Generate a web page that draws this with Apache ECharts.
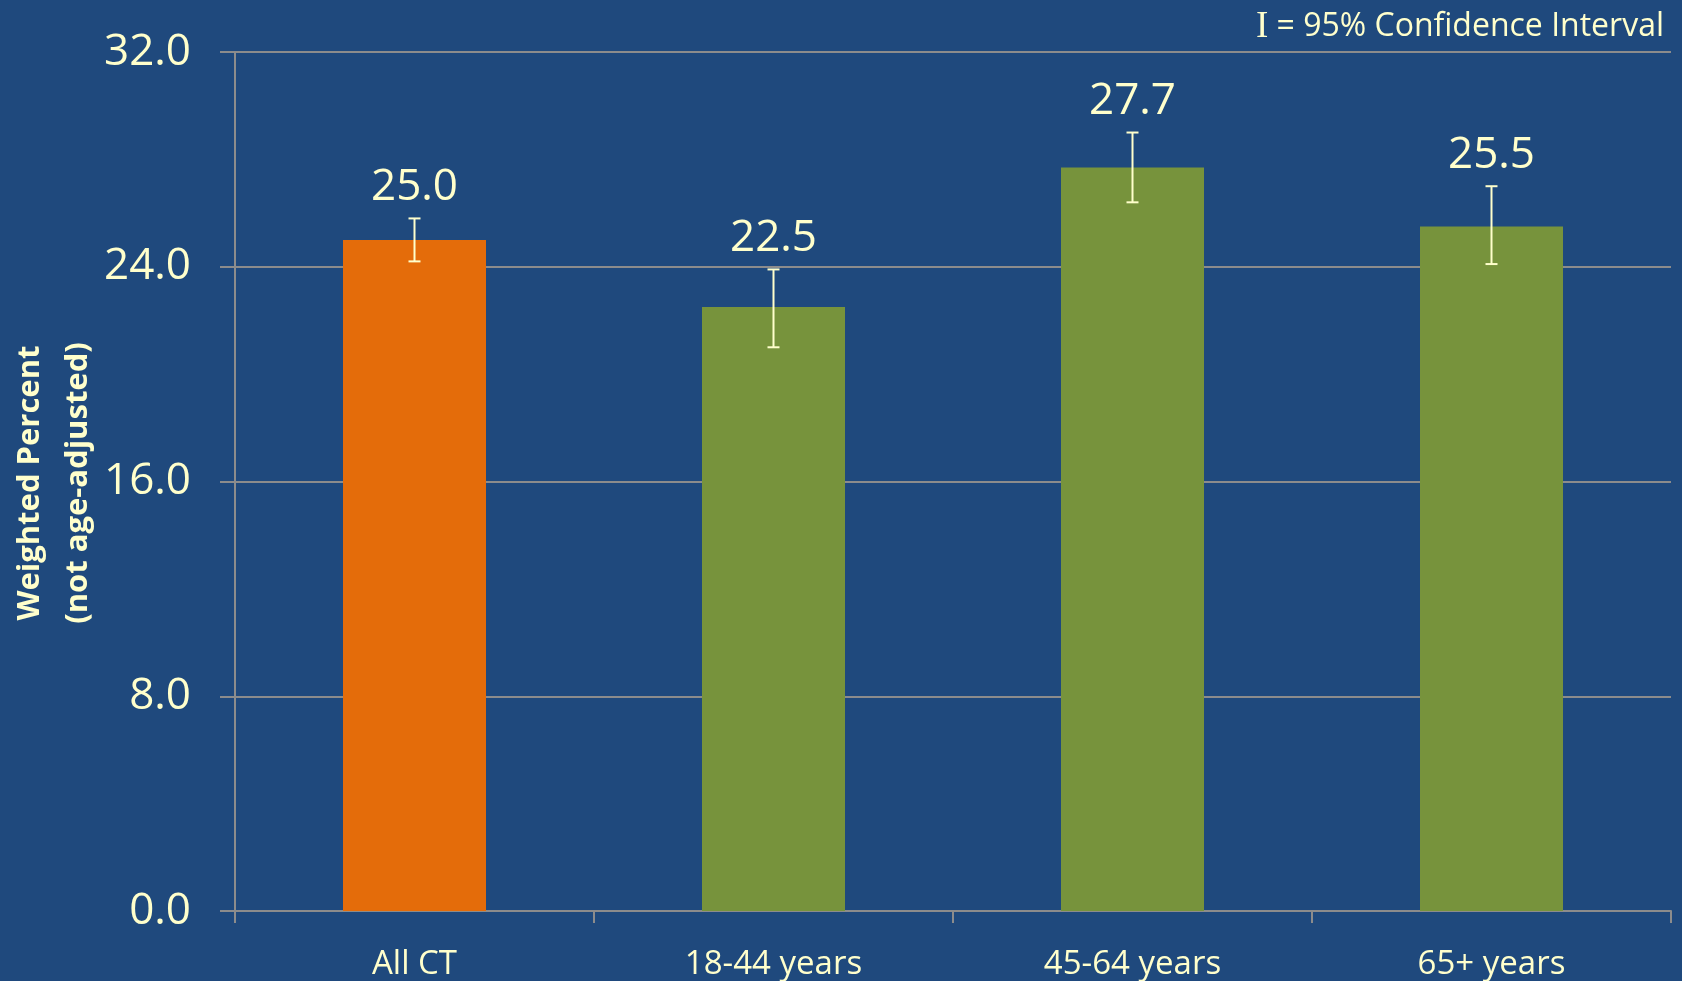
<!DOCTYPE html>
<html>
<head>
<meta charset="utf-8">
<script src="https://cdn.jsdelivr.net/npm/echarts@6/dist/echarts.min.js"></script>
<style>
html,body{margin:0;padding:0;background:#1F497D;}
#chart{width:1682px;height:981px;}
</style>
</head>
<body>
<div id="chart"></div>
<script>
const categories = ['All CT', '18-44 years', '45-64 years', '65+ years'];
const values = [25.0, 22.5, 27.7, 25.5];
const ciLow = [24.2, 21.0, 26.4, 24.1];
const ciHigh = [25.8, 23.9, 29.0, 27.0];
const barColors = ['#E46C0A', '#77933C', '#77933C', '#77933C'];
const yTicks = { min: 0, max: 32, interval: 8 };

const TXT = '#FFFFCC';
const FONT = '"Open Sans", sans-serif';
const GRIDC = '#8C8C8C';

const chart = echarts.init(document.getElementById('chart'), null, { renderer: 'canvas' });

const option = {
  backgroundColor: '#1F497D',
  animation: false,
  grid: { left: 235, right: 11, top: 52, bottom: 69, containLabel: false },
  xAxis: {
    type: 'category',
    data: categories,
    boundaryGap: true,
    axisLine: { show: true, lineStyle: { color: GRIDC, width: 2 } },
    axisTick: { show: true, length: 12, inside: false, lineStyle: { color: GRIDC, width: 2 } },
    axisLabel: { color: TXT, fontFamily: FONT, fontSize: 33, margin: 37 },
    splitLine: { show: false }
  },
  yAxis: {
    type: 'value',
    min: yTicks.min, max: yTicks.max, interval: yTicks.interval,
    axisLine: { show: true, lineStyle: { color: GRIDC, width: 2 } },
    axisTick: { show: true, length: 15, lineStyle: { color: GRIDC, width: 2 } },
    axisLabel: {
      color: TXT, fontFamily: FONT, fontSize: 44, margin: 44,
      formatter: v => v.toFixed(1)
    },
    splitLine: { show: true, lineStyle: { color: GRIDC, width: 2 } }
  },
  graphic: [
    {
      type: 'text', x: 1664, y: 27,
      style: {
        text: '{s|I} = 95% Confidence Interval',
        align: 'right', verticalAlign: 'middle',
        fill: TXT, font: '32px "Open Sans", sans-serif',
        rich: { s: { fontFamily: '"Liberation Serif", serif', fontSize: 37, fill: TXT } }
      }
    },
    {
      type: 'text', x: 54, y: 483, rotation: Math.PI / 2,
      style: {
        text: 'Weighted Percent\n(not age-adjusted)',
        align: 'center', verticalAlign: 'middle',
        fill: TXT, font: 'bold 31px "Open Sans", sans-serif', lineHeight: 48
      }
    }
  ],
  series: [
    {
      type: 'bar',
      barWidth: 143,
      data: values.map((v, i) => ({ value: v, itemStyle: { color: barColors[i] } })),
      z: 2
    },
    {
      type: 'custom',
      z: 5,
      data: categories.map((c, i) => [i, ciLow[i], ciHigh[i], values[i]]),
      encode: { x: 0, y: [1, 2] },
      renderItem: function (params, api) {
        const i = api.value(0);
        const lo = api.coord([i, api.value(1)]);
        const hi = api.coord([i, api.value(2)]);
        const cap = 6;
        const st = { stroke: TXT, lineWidth: 2 };
        return {
          type: 'group',
          children: [
            { type: 'line', shape: { x1: hi[0], y1: hi[1], x2: lo[0], y2: lo[1] }, style: st },
            { type: 'line', shape: { x1: hi[0] - cap, y1: hi[1], x2: hi[0] + cap, y2: hi[1] }, style: st },
            { type: 'line', shape: { x1: lo[0] - cap, y1: lo[1], x2: lo[0] + cap, y2: lo[1] }, style: st },
            {
              type: 'text',
              style: {
                text: api.value(3).toFixed(1),
                x: hi[0], y: hi[1] - 31,
                align: 'center', verticalAlign: 'middle',
                fill: TXT, font: '44px "Open Sans", sans-serif'
              }
            }
          ]
        };
      }
    }
  ]
};
chart.setOption(option);
</script>
</body>
</html>
